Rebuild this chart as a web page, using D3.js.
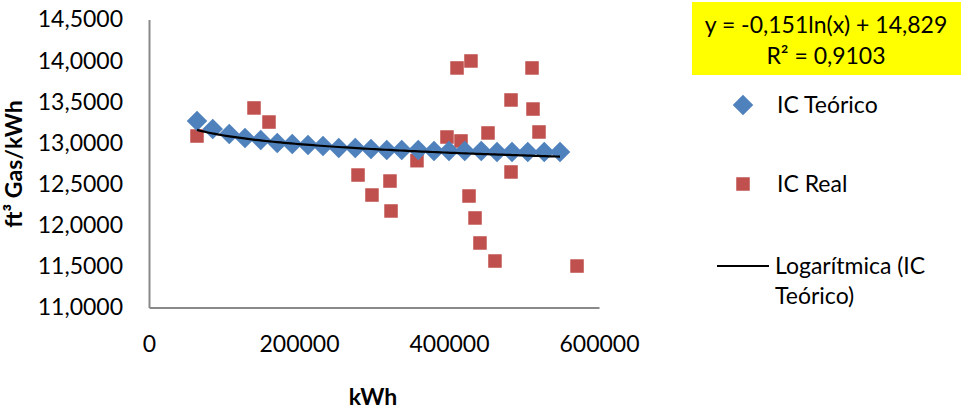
<!DOCTYPE html>
<html>
<head>
<meta charset="utf-8">
<script src="https://cdn.jsdelivr.net/npm/d3@7"></script>
<style>
  html, body { margin: 0; padding: 0; background: #fff; }
  svg { display: block; font-family: Lato, "Open Sans", sans-serif; }
</style>
</head>
<body>
<svg id="chart" width="961" height="412"></svg>
<script>
// Consumo teórico (IC Teórico) por nivel de generación
const kwhTeorico = [64000, 85000, 107000, 128000, 149000, 171000, 191000, 212000, 232000, 253000, 275000, 296000,
                    317000, 337000, 359000, 380000, 400000, 421000, 443000, 464000, 484000, 505000, 527000, 548000];
const icTeorico  = [13.267, 13.169, 13.109, 13.060, 13.036, 12.999, 12.987, 12.975, 12.963, 12.939, 12.939, 12.927,
                    12.915, 12.915, 12.915, 12.902, 12.902, 12.902, 12.902, 12.890, 12.890, 12.890, 12.890, 12.890];

// Consumo medido (IC Real)
const kwhReal = [64000, 140000, 160000, 278700, 297300, 321300, 322700, 357300, 397300, 410700, 416000, 426700,
                 429300, 434700, 441300, 452000, 461300, 482700, 482700, 510700, 512000, 520000, 570700];
const icReal  = [13.084, 13.425, 13.254, 12.610, 12.367, 12.537, 12.173, 12.784, 13.072, 13.911, 13.024, 12.355,
                 13.996, 12.088, 11.784, 13.121, 11.565, 13.522, 12.647, 13.911, 13.412, 13.133, 11.504];

// Línea de tendencia logarítmica: y = a·ln(x) + b
const trendA = -0.151;
const trendB = 14.829;
const trendR2 = 0.9103;

const xTicks = [0, 200000, 400000, 600000];
const yTicks = [11, 11.5, 12, 12.5, 13, 13.5, 14, 14.5];

const seriesNames = ["IC Teórico", "IC Real", "Logarítmica (IC", "Teórico)"];

const svg = d3.select("#chart");
const FS = 23;
const axisColor = "#898989";
const blue = "#4F81BD";
const red = "#C0504D";

const x = d3.scaleLinear().domain([0, 600000]).range([149, 599]);
const y = d3.scaleLinear().domain([11, 14.5]).range([307.5, 19.5]);

const esLocale = d3.formatLocale({ decimal: ",", thousands: ".", grouping: [3], currency: ["", "€"], minus: "-" });
const fmtY = esLocale.format(".4f");
const fmtX = d3.format("d");

// Ejes
const gx = svg.append("g")
  .attr("transform", `translate(0,${y(11)})`)
  .call(d3.axisBottom(x).tickValues(xTicks).tickFormat(fmtX).tickSize(0).tickPadding(28));
const gy = svg.append("g")
  .attr("transform", `translate(${x(0)},0)`)
  .call(d3.axisLeft(y).tickValues(yTicks).tickFormat(fmtY).tickSize(0).tickPadding(26));

[gx, gy].forEach(g => {
  g.select(".domain").attr("stroke", axisColor).attr("stroke-width", 2);
  g.selectAll("text").attr("font-family", "Lato, sans-serif").attr("font-size", FS).attr("fill", "#000");
});

// Títulos de ejes
svg.append("text")
  .attr("x", 373).attr("y", 405)
  .attr("text-anchor", "middle")
  .attr("font-weight", "bold").attr("font-size", FS)
  .text("kWh");
svg.append("text")
  .attr("transform", "translate(22,164) rotate(-90)")
  .attr("text-anchor", "middle")
  .attr("font-weight", "bold").attr("font-size", FS)
  .text("ft³ Gas/kWh");

// Puntos IC Real
const sq = 13.5;
svg.append("g").selectAll("rect")
  .data(d3.zip(kwhReal, icReal))
  .join("rect")
  .attr("x", d => x(d[0]) - sq / 2)
  .attr("y", d => y(d[1]) - sq / 2)
  .attr("width", sq).attr("height", sq)
  .attr("fill", red);

// Puntos IC Teórico (rombos)
const diamond = d3.symbol().type(d3.symbolSquare).size(210);
svg.append("g").selectAll("path")
  .data(d3.zip(kwhTeorico, icTeorico))
  .join("path")
  .attr("d", diamond)
  .attr("transform", d => `translate(${x(d[0])},${y(d[1])}) rotate(45)`)
  .attr("fill", blue);

// Tendencia logarítmica
const [xmin, xmax] = d3.extent(kwhTeorico);
const trendPts = d3.range(0, 101).map(i => {
  const xv = xmin + (xmax - xmin) * i / 100;
  return [xv, trendA * Math.log(xv) + trendB];
});
svg.append("path")
  .datum(trendPts)
  .attr("d", d3.line().x(d => x(d[0])).y(d => y(d[1])))
  .attr("fill", "none")
  .attr("stroke", "#000")
  .attr("stroke-width", 2.2);

// Ecuación de la tendencia
const fmt3 = esLocale.format(".3f");
const fmt4 = esLocale.format(".4f");
svg.append("rect")
  .attr("x", 692).attr("y", 2).attr("width", 269).attr("height", 73)
  .attr("fill", "#FFFF00");
const eq = svg.append("text")
  .attr("text-anchor", "middle")
  .attr("font-size", FS);
eq.append("tspan").attr("x", 826).attr("y", 33)
  .text(`y = ${fmt3(trendA)}ln(x) + ${fmt3(trendB)}`);
eq.append("tspan").attr("x", 826).attr("y", 64)
  .text(`R² = ${fmt4(trendR2)}`);

// Leyenda
const leg = svg.append("g");
leg.append("path")
  .attr("d", diamond)
  .attr("transform", "translate(743,105) rotate(45)")
  .attr("fill", blue);
leg.append("rect")
  .attr("x", 743 - sq / 2).attr("y", 184 - sq / 2).attr("width", sq).attr("height", sq)
  .attr("fill", red);
leg.append("line")
  .attr("x1", 717).attr("x2", 769).attr("y1", 266).attr("y2", 266)
  .attr("stroke", "#000").attr("stroke-width", 2.2);
const legText = [[777, 113, seriesNames[0]], [777, 192, seriesNames[1]], [775, 274, seriesNames[2]], [775, 304, seriesNames[3]]];
leg.selectAll("text")
  .data(legText)
  .join("text")
  .attr("x", d => d[0]).attr("y", d => d[1])
  .attr("font-size", FS)
  .text(d => d[2]);
</script>
</body>
</html>
